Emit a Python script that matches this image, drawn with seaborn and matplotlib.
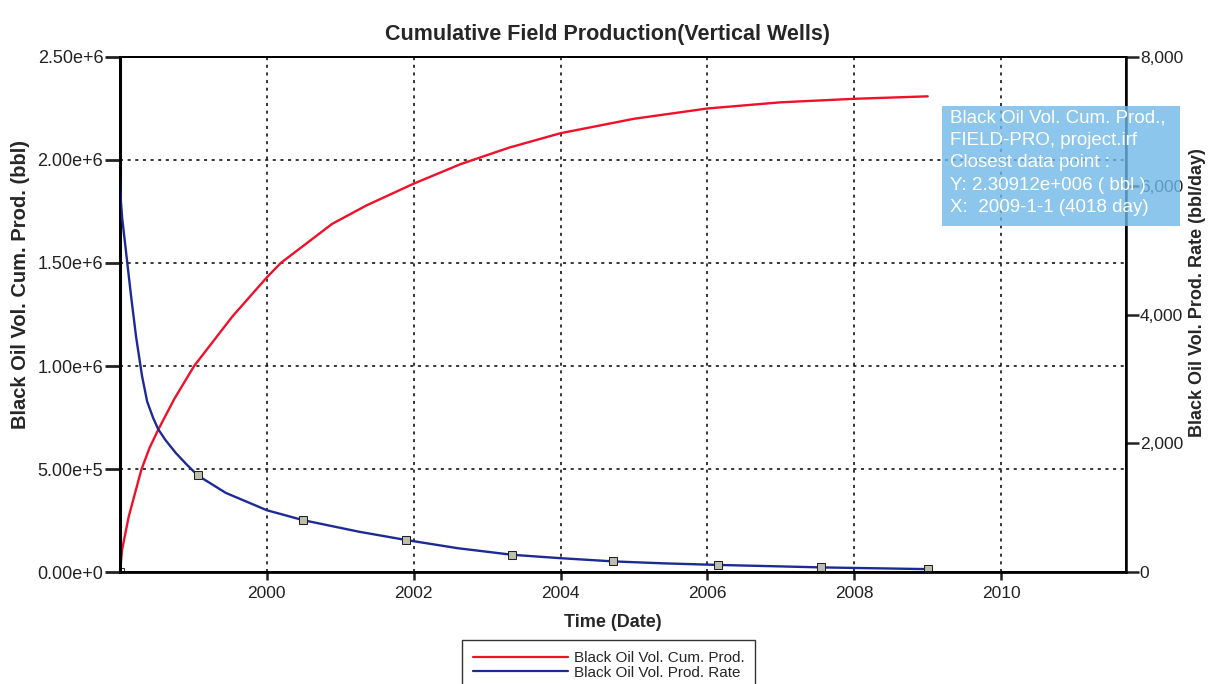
import numpy as np
import pandas as pd
import seaborn as sns
import matplotlib.pyplot as plt
import matplotlib.ticker as mtick
from matplotlib.lines import Line2D
from matplotlib.patches import Rectangle

# cumulative oil production (bbl)
cum_years = [1998.00, 1998.03, 1998.12, 1998.29, 1998.40, 1998.52, 1998.74,
             1999.01, 1999.53, 2000.00, 2000.19, 2000.89, 2001.36, 2002.00,
             2002.64, 2003.30, 2004.00, 2005.00, 2006.00, 2007.00, 2008.00,
             2009.00]
cum_bbl = [0, 0.11e6, 0.27e6, 0.495e6, 0.60e6, 0.69e6, 0.84e6,
           1.00e6, 1.24e6, 1.43e6, 1.50e6, 1.69e6, 1.78e6, 1.885e6,
           1.98e6, 2.06e6, 2.13e6, 2.20e6, 2.25e6, 2.28e6, 2.297e6,
           2.309e6]

# oil production rate (bbl/day)
rate_years = [1998.00, 1998.01, 1998.03, 1998.08, 1998.15, 1998.22, 1998.30,
              1998.37, 1998.45, 1998.52, 1998.62, 1998.76, 1998.90, 1999.06,
              1999.44, 2000.00, 2000.49, 2001.26, 2001.90, 2002.60, 2003.34,
              2004.00, 2004.72, 2005.40, 2006.15, 2006.90, 2007.55, 2008.30,
              2009.00]
rate_bbl_day = [6130, 5800, 5500, 5000, 4300, 3650, 3050,
                2650, 2400, 2220, 2050, 1850, 1680, 1500,
                1230, 960, 807, 625, 497, 370, 268,
                215, 165, 135, 110, 90, 72, 58,
                45]
rate_marker_idx = [13, 16, 18, 20, 22, 24, 26, 28]

year_ticks = [2000, 2002, 2004, 2006, 2008, 2010]

tip_lines = ['Black Oil Vol. Cum. Prod.,',
             'FIELD-PRO, project.irf',
             'Closest data point :',
             'Y: 2.30912e+006 ( bbl )',
             'X:  2009-1-1 (4018 day)']

cum = pd.DataFrame({'year': cum_years, 'cum': cum_bbl})
rate = pd.DataFrame({'year': rate_years, 'rate': rate_bbl_day})

sns.set_theme(style='ticks')
plt.rcParams['font.family'] = ['Liberation Sans', 'DejaVu Sans']

red = '#f0102a'
blue = '#1c2a96'

fig = plt.figure(figsize=(12.08, 6.84), dpi=100)
ax = fig.add_axes([0.0993, 0.1637, 0.8328, 0.7530])
ax2 = ax.twinx()

sns.lineplot(data=cum, x='year', y='cum', ax=ax, color=red, linewidth=1.7,
             estimator=None, sort=False, marker='s', markevery=[0],
             markersize=6, markerfacecolor='white', markeredgecolor='#333333')
sns.lineplot(data=rate, x='year', y='rate', ax=ax2, color=blue,
             linewidth=1.7, estimator=None, sort=False, marker='s',
             markevery=rate_marker_idx, markersize=6,
             markerfacecolor='#bdbdb0', markeredgecolor='#222222')

ax.set_xlim(1998.0, 2011.7)
ax.set_ylim(0, 2.5e6)
ax2.set_ylim(0, 8000)
ax.set_xticks(year_ticks)
ax.set_xticklabels([str(y) for y in year_ticks])
ax.set_yticks(np.arange(0, 2.51e6, 0.5e6))
ax2.set_yticks(np.arange(0, 8001, 2000))


def sci_fmt(v, pos):
    if v == 0:
        return '0.00e+0'
    e = int(np.floor(np.log10(v)))
    return '%.2fe+%d' % (v / 10 ** e, e)


ax.yaxis.set_major_formatter(mtick.FuncFormatter(sci_fmt))
ax2.yaxis.set_major_formatter(mtick.StrMethodFormatter('{x:,.0f}'))

ax.grid(True, color='black', linestyle=(0, (2, 3)), linewidth=1.1)
for a in (ax, ax2):
    for s in a.spines.values():
        s.set_visible(True)
        s.set_color('black')
        s.set_linewidth(1.3)
ax.spines['left'].set_linewidth(2.2)
ax.spines['bottom'].set_linewidth(2.0)
ax2.spines['right'].set_linewidth(1.8)

ax.tick_params(axis='y', direction='out', length=11, width=2, labelsize=13,
               pad=1, colors='#222222')
ax.tick_params(axis='x', direction='out', length=6, width=1.8, labelsize=12.5,
               pad=4, colors='#222222')
ax2.tick_params(axis='y', direction='out', length=9, width=1.8,
                labelsize=12.5, pad=1, colors='#222222')

ax.set_title('Cumulative Field Production(Vertical Wells)', fontsize=15.5,
             fontweight='bold', pad=12, x=0.485)
ax.set_xlabel('Time (Date)', fontsize=13, fontweight='bold')
ax.xaxis.set_label_coords(0.49, -0.082)
ax.set_ylabel('Black Oil Vol. Cum. Prod. (bbl)', fontsize=14.5,
              fontweight='bold')
ax.yaxis.set_label_coords(-0.089, 0.559)
ax2.set_ylabel('Black Oil Vol. Prod. Rate (bbl/day)', fontsize=13,
               fontweight='bold', rotation=90)
ax2.yaxis.set_label_coords(1.063, 0.542)

handles = [Line2D([], [], color=red, linewidth=1.6),
           Line2D([], [], color=blue, linewidth=1.6)]
fig.legend(handles, ['Black Oil Vol. Cum. Prod.', 'Black Oil Vol. Prod. Rate'],
           loc='upper center', bbox_to_anchor=(0.504, 0.064), frameon=True,
           fancybox=False, edgecolor='black', fontsize=11, handlelength=6.2,
           handletextpad=0.4, borderpad=0.7, labelspacing=0.05,
           borderaxespad=0)

# tooltip box from the original screenshot
fig.patches.append(Rectangle((0.7798, 0.6696), 0.197, 0.1754,
                             transform=fig.transFigure, facecolor='#6fb8e8',
                             edgecolor='none', alpha=0.8, zorder=5))
fig.text(0.7864, 0.8400, '\n'.join(tip_lines), color='white', fontsize=13.5,
         va='top', ha='left', linespacing=1.42, zorder=6)

fig.savefig('out.png', dpi=100)
